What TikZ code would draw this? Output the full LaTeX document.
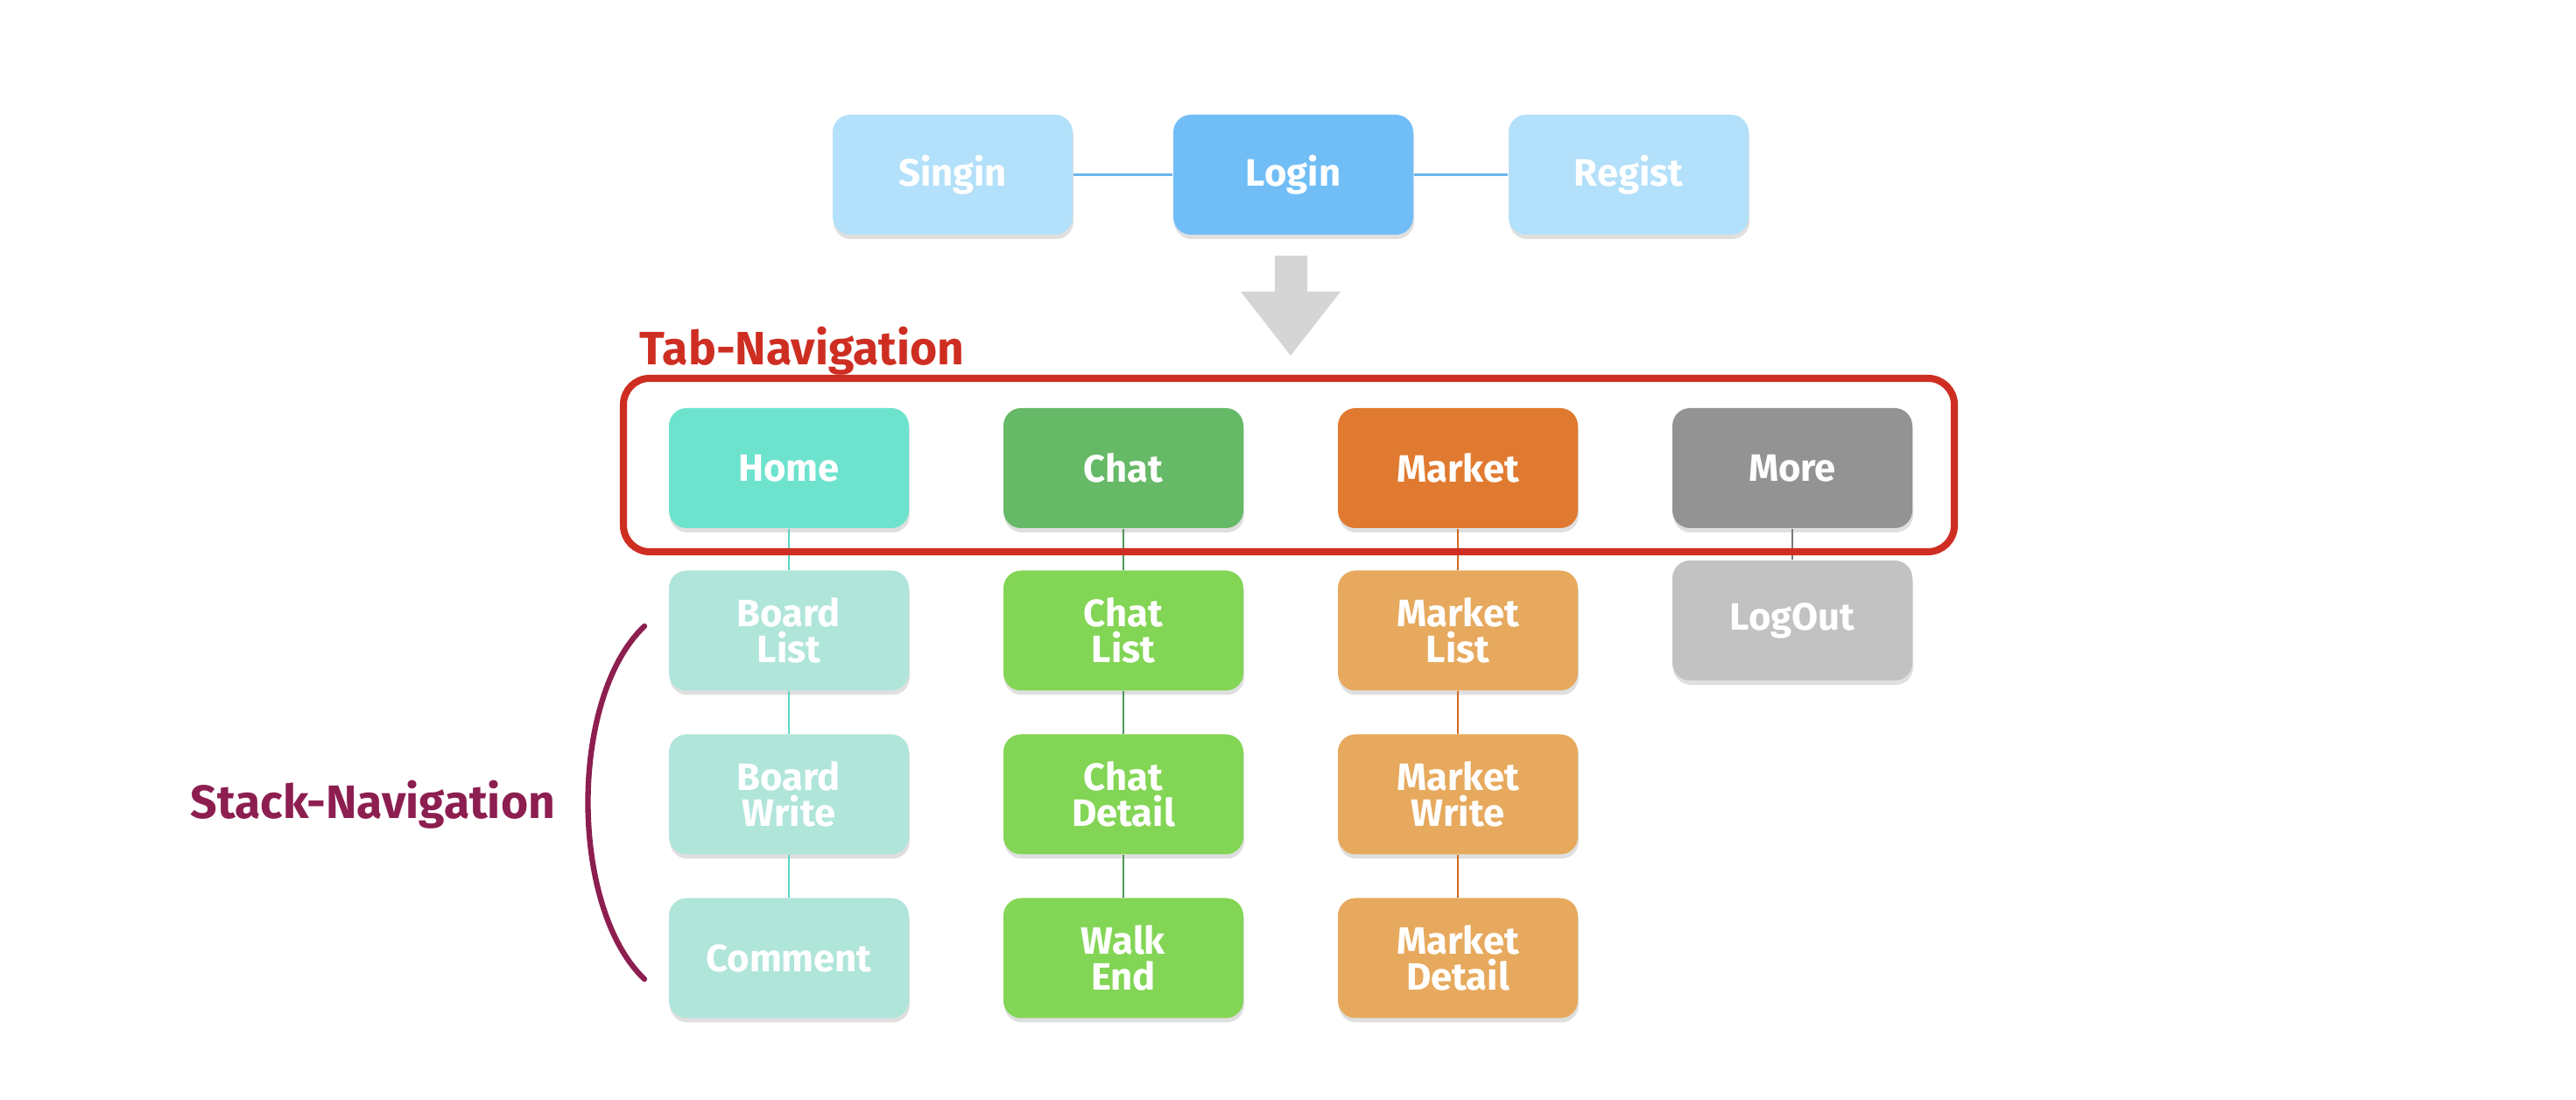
\documentclass[tikz,border=0pt]{standalone}
\usepackage{fontspec}
\setmainfont{Fira Sans}
\usetikzlibrary{shadows}
\definecolor{loginlight}{RGB}{179,224,250}
\definecolor{login}{RGB}{113,190,247}
\definecolor{loginline}{RGB}{108,182,238}
\definecolor{home}{RGB}{109,227,206}
\definecolor{homesub}{RGB}{176,229,218}
\definecolor{homeline}{RGB}{94,214,196}
\definecolor{chat}{RGB}{102,185,102}
\definecolor{chatsub}{RGB}{131,213,85}
\definecolor{chatline}{RGB}{80,150,90}
\definecolor{market}{RGB}{224,122,48}
\definecolor{marketsub}{RGB}{230,169,93}
\definecolor{marketline}{RGB}{208,106,32}
\definecolor{more}{RGB}{147,147,147}
\definecolor{moresub}{RGB}{194,194,194}
\definecolor{moreline}{RGB}{120,120,120}
\definecolor{tabred}{RGB}{206,46,34}
\definecolor{stackred}{RGB}{140,30,80}
\definecolor{arrowgray}{RGB}{213,213,213}
\tikzset{
  navbox/.style={rectangle, rounded corners=0.2cm, minimum width=2.74cm, minimum height=1.37cm,
    inner sep=0pt, align=center, text=white, font=\bfseries\fontsize{12.4}{11.8}\selectfont,
    drop shadow={shadow xshift=0.01cm, shadow yshift=-0.05cm, opacity=0.25}},
  navlink/.style={line width=0.6pt},
  navlabel/.style={inner sep=0pt, anchor=base west, font=\bfseries\fontsize{15.2}{15.2}\selectfont},
}
\newcommand{\navbox}[5]{\node[navbox, fill=#2] (#1) at (#3,#4) {#5};}

\begin{document}
\begin{tikzpicture}
\useasboundingbox (0,0) rectangle (29.42,12.56);
\navbox{singin}{loginlight}{10.88}{10.565}{Singin}
\navbox{login}{login}{14.77}{10.565}{Login}
\navbox{regist}{loginlight}{18.60}{10.565}{Regist}
\draw[loginline, line width=0.9pt] (singin) -- (login) -- (regist);
\fill[arrowgray] (14.56,9.64) -- (14.93,9.64) -- (14.93,9.23) -- (15.31,9.23) -- (14.74,8.50) -- (14.17,9.23) -- (14.56,9.23) -- cycle;
\foreach \name/\x/\txt in {home/9.01/Home, chat/12.83/Chat, market/16.65/Market, more/20.47/More}{
  \navbox{\name}{\name}{\x}{7.215}{\txt}
}
\navbox{boardlist}{homesub}{9.01}{5.36}{Board\\List}
\navbox{boardwrite}{homesub}{9.01}{3.49}{Board\\Write}
\navbox{comment}{homesub}{9.01}{1.62}{Comment}
\navbox{chatlist}{chatsub}{12.83}{5.36}{Chat\\List}
\navbox{chatdetail}{chatsub}{12.83}{3.49}{Chat\\Detail}
\navbox{walkend}{chatsub}{12.83}{1.62}{Walk\\End}
\navbox{marketlist}{marketsub}{16.65}{5.36}{Market\\List}
\navbox{marketwrite}{marketsub}{16.65}{3.49}{Market\\Write}
\navbox{marketdetail}{marketsub}{16.65}{1.62}{Market\\Detail}
\navbox{logout}{moresub}{20.47}{5.475}{LogOut}
\draw[navlink, homeline] (home) -- (boardlist) -- (boardwrite) -- (comment);
\draw[navlink, chatline] (chat) -- (chatlist) -- (chatdetail) -- (walkend);
\draw[navlink, marketline] (market) -- (marketlist) -- (marketwrite) -- (marketdetail);
\draw[navlink, moreline] (more) -- (logout);
\draw[tabred, line width=2.3pt, rounded corners=0.3cm] (7.12,6.26) rectangle (22.32,8.24);
\node[navlabel, tabred] (tablabel) at (7.30,8.39) {Tab-Navigation};
\node[navlabel, stackred] (stacklabel) at (2.17,3.21) {Stack-Navigation};
\draw[stackred, line width=1.8pt, line cap=round] (7.36,5.41) .. controls (6.5,4.6) and (6.5,2.2) .. (7.36,1.38);
\end{tikzpicture}
\end{document}
